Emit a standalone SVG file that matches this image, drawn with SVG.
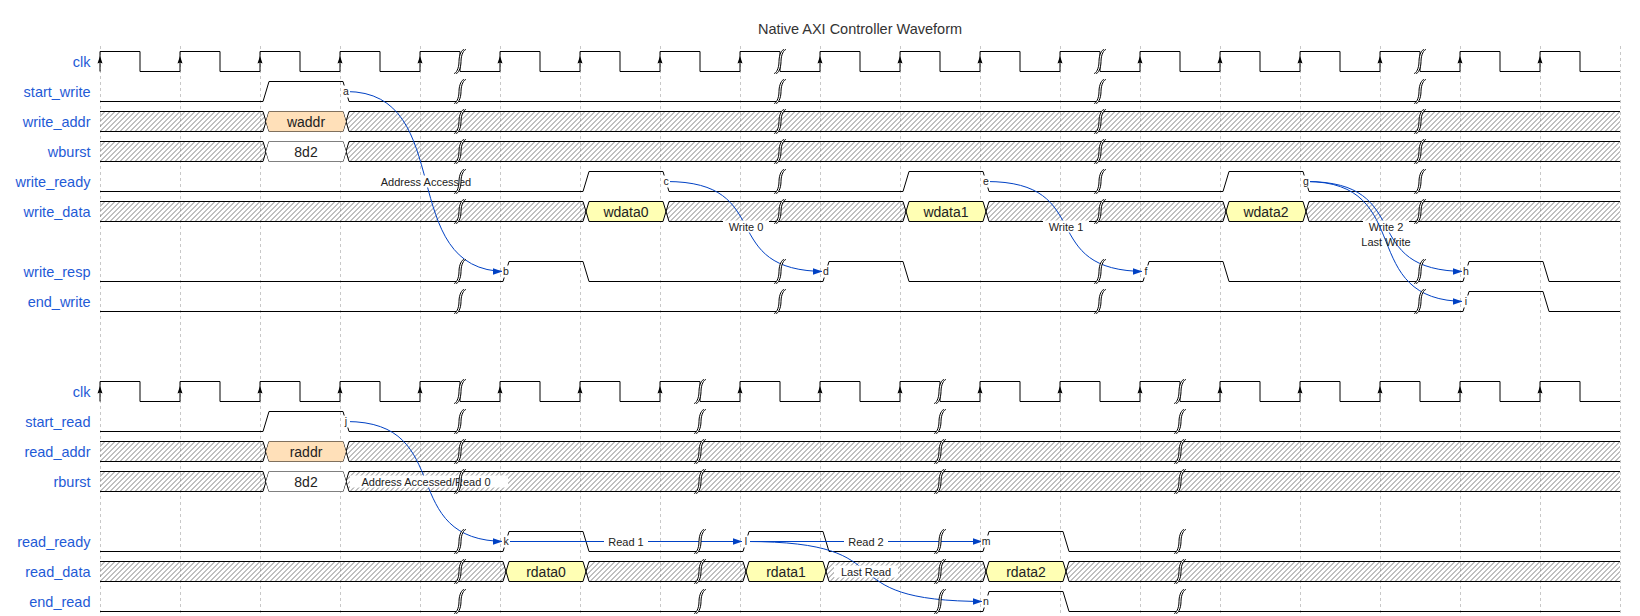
<svg xmlns="http://www.w3.org/2000/svg" width="1640" height="616" viewBox="0 0 1640 616">
<style>
.lbl{font-family:"Liberation Sans",Arial,sans-serif;font-size:14.5px;fill:#1f5bd6;text-anchor:end}
.w{fill:none;stroke:#000;stroke-width:1}
.hx{fill:url(#hatch);stroke:none}
.dt{font-family:"Liberation Sans",Arial,sans-serif;font-size:14px;fill:#222;text-anchor:middle}
.grid{stroke:#c8c8c8;stroke-width:1;stroke-dasharray:3,3}
.arc{fill:none;stroke:#0041c4;stroke-width:1;marker-end:url(#ah)}
.al{font-family:"Liberation Sans",Arial,sans-serif;font-size:11px;fill:#222;text-anchor:middle}
.nl{font-family:"Liberation Sans",Arial,sans-serif;font-size:10.5px;fill:#222;text-anchor:middle}
.bg{fill:#fff;stroke:none}
.title{font-family:"Liberation Sans",Arial,sans-serif;font-size:14.5px;fill:#333;text-anchor:middle}
</style>
<defs>
<pattern id="hatch" patternUnits="userSpaceOnUse" width="5" height="5"><path d="M-1,1 L1,-1 M0,5 L5,0 M4,6 L6,4" stroke="#555" stroke-width="0.75"/></pattern>
<marker id="ah" markerUnits="userSpaceOnUse" markerWidth="12" markerHeight="8" refX="13.5" refY="3.5" orient="auto"><path d="M0,0 L10,3.5 L0,7 z" fill="#0041c4"/></marker>
<g id="gap"><path d="M4,-2 c-2,0 -5,5 -5,12 0,7 -3,12 -5,12 h2 c2,0 5,-5 5,-12 0,-7 3,-12 5,-12 z" fill="#fff"/><path d="M4,-2 c-2,0 -5,5 -5,12 0,7 -3,12 -5,12 M6,-2 c-2,0 -5,5 -5,12 0,7 -3,12 -5,12" fill="none" stroke="#000" stroke-width="1"/></g>
<g id="clock">
<path class="w" d="M100,20 V0 H140 V20 H180 V0 H220 V20 H260 V0 H300 V20 H340 V0 H380 V20 H420 V0 H460 V20 H500 V0 H540 V20 H580 V0 H620 V20 H660 V0 H700 V20 H740 V0 H780 V20 H820 V0 H860 V20 H900 V0 H940 V20 H980 V0 H1020 V20 H1060 V0 H1100 V20 H1140 V0 H1180 V20 H1220 V0 H1260 V20 H1300 V0 H1340 V20 H1380 V0 H1420 V20 H1460 V0 H1500 V20 H1540 V0 H1580 V20 H1620"/>
<path fill="#000" d="M100,4.5 l-2.5,7.5 2.5,-1 2.5,1 z M180,4.5 l-2.5,7.5 2.5,-1 2.5,1 z M260,4.5 l-2.5,7.5 2.5,-1 2.5,1 z M340,4.5 l-2.5,7.5 2.5,-1 2.5,1 z M420,4.5 l-2.5,7.5 2.5,-1 2.5,1 z M500,4.5 l-2.5,7.5 2.5,-1 2.5,1 z M580,4.5 l-2.5,7.5 2.5,-1 2.5,1 z M660,4.5 l-2.5,7.5 2.5,-1 2.5,1 z M740,4.5 l-2.5,7.5 2.5,-1 2.5,1 z M820,4.5 l-2.5,7.5 2.5,-1 2.5,1 z M900,4.5 l-2.5,7.5 2.5,-1 2.5,1 z M980,4.5 l-2.5,7.5 2.5,-1 2.5,1 z M1060,4.5 l-2.5,7.5 2.5,-1 2.5,1 z M1140,4.5 l-2.5,7.5 2.5,-1 2.5,1 z M1220,4.5 l-2.5,7.5 2.5,-1 2.5,1 z M1300,4.5 l-2.5,7.5 2.5,-1 2.5,1 z M1380,4.5 l-2.5,7.5 2.5,-1 2.5,1 z M1460,4.5 l-2.5,7.5 2.5,-1 2.5,1 z M1540,4.5 l-2.5,7.5 2.5,-1 2.5,1 z"/>
</g>
<g id="pulse1">
<path class="w" d="M100,20 H263 L269,0 H343 L349,20 H1620"/>
</g>
<g id="bus1">
<polygon class="hx" points="100,0 263,0 266,10 263,20 100,20"/>
<polygon class="hx" points="346,10 349,0 1620,0 1620,20 349,20"/>
<path class="w" d="M100,0 H263 L269,20 H343 L349,0 H1620 M100,20 H263 L269,0 H343 L349,20 H1620"/>
</g>
</defs>

<rect width="1640" height="616" fill="#fff"/>
<text class="title" x="860" y="34">Native AXI Controller Waveform</text>

<g id="grid">
<path class="grid" d="M100.5,46 V616 M180.5,46 V616 M260.5,46 V616 M340.5,46 V616 M420.5,46 V616 M500.5,46 V616 M580.5,46 V616 M660.5,46 V616 M740.5,46 V616 M820.5,46 V616 M900.5,46 V616 M980.5,46 V616 M1060.5,46 V616 M1140.5,46 V616 M1220.5,46 V616 M1300.5,46 V616 M1380.5,46 V616 M1460.5,46 V616 M1540.5,46 V616 M1620.5,46 V616"/>
</g>

<g id="clk_w" transform="translate(0,51.5)">
<text class="lbl" x="90.5" y="15">clk</text>
<use href="#clock"/>
</g>
<g id="start_write" transform="translate(0,81.5)">
<text class="lbl" x="90.5" y="15">start_write</text>
<use href="#pulse1"/>
</g>
<g id="write_addr" transform="translate(0,111.5)">
<text class="lbl" x="90.5" y="15">write_addr</text>
<use href="#bus1"/>
<polygon points="266,10 269,0 343,0 346,10 343,20 269,20" fill="#ffe0b9" stroke="none"/>
<text class="dt" x="306" y="15">waddr</text>
</g>
<g id="wburst" transform="translate(0,141.5)">
<text class="lbl" x="90.5" y="15">wburst</text>
<use href="#bus1"/>
<polygon points="266,10 269,0 343,0 346,10 343,20 269,20" fill="#fff" stroke="none"/>
<text class="dt" x="306" y="15">8d2</text>
</g>
<g id="write_ready" transform="translate(0,171.5)">
<text class="lbl" x="90.5" y="15">write_ready</text>
<path class="w" d="M100,20 H583 L589,0 H663 L669,20 H903 L909,0 H983 L989,20 H1223 L1229,0 H1303 L1309,20 H1620"/>
</g>
<g id="write_data" transform="translate(0,201.5)">
<text class="lbl" x="90.5" y="15">write_data</text>
<polygon class="hx" points="100,0 583,0 586,10 583,20 100,20"/>
<polygon class="hx" points="666,10 669,0 903,0 906,10 903,20 669,20"/>
<polygon class="hx" points="986,10 989,0 1223,0 1226,10 1223,20 989,20"/>
<polygon class="hx" points="1306,10 1309,0 1620,0 1620,20 1309,20"/>
<polygon points="586,10 589,0 663,0 666,10 663,20 589,20" fill="#ffffb4"/>
<polygon points="906,10 909,0 983,0 986,10 983,20 909,20" fill="#ffffb4"/>
<polygon points="1226,10 1229,0 1303,0 1306,10 1303,20 1229,20" fill="#ffffb4"/>
<path class="w" d="M100,0 H583 L589,20 H663 L669,0 H903 L909,20 H983 L989,0 H1223 L1229,20 H1303 L1309,0 H1620 M100,20 H583 L589,0 H663 L669,20 H903 L909,0 H983 L989,20 H1223 L1229,0 H1303 L1309,20 H1620"/>
<text class="dt" x="626" y="15">wdata0</text>
<text class="dt" x="946" y="15">wdata1</text>
<text class="dt" x="1266" y="15">wdata2</text>
</g>
<g id="write_resp" transform="translate(0,261.5)">
<text class="lbl" x="90.5" y="15">write_resp</text>
<path class="w" d="M100,20 H503 L509,0 H583 L589,20 H823 L829,0 H903 L909,20 H1143 L1149,0 H1223 L1229,20 H1463 L1469,0 H1543 L1549,20 H1620"/>
</g>
<g id="end_write" transform="translate(0,291.5)">
<text class="lbl" x="90.5" y="15">end_write</text>
<path class="w" d="M100,20 H1463 L1469,0 H1543 L1549,20 H1620"/>
</g>

<g id="clk_r" transform="translate(0,381.5)">
<text class="lbl" x="90.5" y="15">clk</text>
<use href="#clock"/>
</g>
<g id="start_read" transform="translate(0,411.5)">
<text class="lbl" x="90.5" y="15">start_read</text>
<use href="#pulse1"/>
</g>
<g id="read_addr" transform="translate(0,441.5)">
<text class="lbl" x="90.5" y="15">read_addr</text>
<use href="#bus1"/>
<polygon points="266,10 269,0 343,0 346,10 343,20 269,20" fill="#ffe0b9" stroke="none"/>
<text class="dt" x="306" y="15">raddr</text>
</g>
<g id="rburst" transform="translate(0,471.5)">
<text class="lbl" x="90.5" y="15">rburst</text>
<use href="#bus1"/>
<polygon points="266,10 269,0 343,0 346,10 343,20 269,20" fill="#fff" stroke="none"/>
<text class="dt" x="306" y="15">8d2</text>
</g>
<g id="read_ready" transform="translate(0,531.5)">
<text class="lbl" x="90.5" y="15">read_ready</text>
<path class="w" d="M100,20 H503 L509,0 H583 L589,20 H743 L749,0 H823 L829,20 H983 L989,0 H1063 L1069,20 H1620"/>
</g>
<g id="read_data" transform="translate(0,561.5)">
<text class="lbl" x="90.5" y="15">read_data</text>
<polygon class="hx" points="100,0 503,0 506,10 503,20 100,20"/>
<polygon class="hx" points="586,10 589,0 743,0 746,10 743,20 589,20"/>
<polygon class="hx" points="826,10 829,0 983,0 986,10 983,20 829,20"/>
<polygon class="hx" points="1066,10 1069,0 1620,0 1620,20 1069,20"/>
<polygon points="506,10 509,0 583,0 586,10 583,20 509,20" fill="#ffffb4"/>
<polygon points="746,10 749,0 823,0 826,10 823,20 749,20" fill="#ffffb4"/>
<polygon points="986,10 989,0 1063,0 1066,10 1063,20 989,20" fill="#ffffb4"/>
<path class="w" d="M100,0 H503 L509,20 H583 L589,0 H743 L749,20 H823 L829,0 H983 L989,20 H1063 L1069,0 H1620 M100,20 H503 L509,0 H583 L589,20 H743 L749,0 H823 L829,20 H983 L989,0 H1063 L1069,20 H1620"/>
<text class="dt" x="546" y="15">rdata0</text>
<text class="dt" x="786" y="15">rdata1</text>
<text class="dt" x="1026" y="15">rdata2</text>
</g>
<g id="end_read" transform="translate(0,591.5)">
<text class="lbl" x="90.5" y="15">end_read</text>
<path class="w" d="M100,20 H983 L989,0 H1063 L1069,20 H1620"/>
</g>

<g id="connectors">
<path class="arc" d="M346,91.5 c112,0 48,180 160,180"/>
<rect class="bg" x="375" y="175.5" width="102" height="12"/>
<text class="al" x="426" y="185.5">Address Accessed</text>
<path class="arc" d="M666,181.5 c112,0 48,90 160,90"/>
<rect class="bg" x="723" y="220.5" width="46" height="12"/>
<text class="al" x="746" y="230.5">Write 0</text>
<path class="arc" d="M986,181.5 c112,0 48,90 160,90"/>
<rect class="bg" x="1043" y="220.5" width="46" height="12"/>
<text class="al" x="1066" y="230.5">Write 1</text>
<path class="arc" d="M1306,181.5 c112,0 48,90 160,90"/>
<rect class="bg" x="1363" y="220.5" width="46" height="12"/>
<text class="al" x="1386" y="230.5">Write 2</text>
<path class="arc" d="M1306,181.5 c112,0 48,120 160,120"/>
<text class="al" x="1386" y="245.5">Last Write</text>
<path class="arc" d="M346,421.5 c112,0 48,120 160,120"/>
<rect class="bg" x="350" y="475.5" width="158" height="12"/>
<text class="al" x="426" y="485.5">Address Accessed/Read 0</text>
<path class="arc" d="M506,541.5 L746,541.5"/>
<rect class="bg" x="604" y="535.5" width="44" height="12"/>
<text class="al" x="626" y="545.5">Read 1</text>
<path class="arc" d="M746,541.5 L986,541.5"/>
<rect class="bg" x="844" y="535.5" width="44" height="12"/>
<text class="al" x="866" y="545.5">Read 2</text>
<path class="arc" d="M746,541.5 c168,0 72,60 240,60"/>
<rect class="bg" x="834" y="565.5" width="64" height="12"/>
<text class="al" x="866" y="575.5">Last Read</text>
</g>

<g id="nodes">
<rect class="bg" x="342" y="85.5" width="8" height="12"/><text class="nl" x="346" y="95">a</text>
<rect class="bg" x="502" y="265.5" width="8" height="12"/><text class="nl" x="506" y="275">b</text>
<rect class="bg" x="662" y="175.5" width="8" height="12"/><text class="nl" x="666" y="185">c</text>
<rect class="bg" x="822" y="265.5" width="8" height="12"/><text class="nl" x="826" y="275">d</text>
<rect class="bg" x="982" y="175.5" width="8" height="12"/><text class="nl" x="986" y="185">e</text>
<rect class="bg" x="1142" y="265.5" width="8" height="12"/><text class="nl" x="1146" y="275">f</text>
<rect class="bg" x="1302" y="175.5" width="8" height="12"/><text class="nl" x="1306" y="185">g</text>
<rect class="bg" x="1462" y="265.5" width="8" height="12"/><text class="nl" x="1466" y="275">h</text>
<rect class="bg" x="1462" y="295.5" width="8" height="12"/><text class="nl" x="1466" y="305">i</text>
<rect class="bg" x="342" y="415.5" width="8" height="12"/><text class="nl" x="346" y="425">j</text>
<rect class="bg" x="502" y="535.5" width="8" height="12"/><text class="nl" x="506" y="545">k</text>
<rect class="bg" x="742" y="535.5" width="8" height="12"/><text class="nl" x="746" y="545">l</text>
<rect class="bg" x="981" y="535.5" width="10" height="12"/><text class="nl" x="986" y="545">m</text>
<rect class="bg" x="982" y="595.5" width="8" height="12"/><text class="nl" x="986" y="605">n</text>
</g>

<g id="gaps">
<use href="#gap" x="460" y="51.5"/><use href="#gap" x="780" y="51.5"/><use href="#gap" x="1100" y="51.5"/><use href="#gap" x="1420" y="51.5"/>
<use href="#gap" x="460" y="81.5"/><use href="#gap" x="780" y="81.5"/><use href="#gap" x="1100" y="81.5"/><use href="#gap" x="1420" y="81.5"/>
<use href="#gap" x="460" y="111.5"/><use href="#gap" x="780" y="111.5"/><use href="#gap" x="1100" y="111.5"/><use href="#gap" x="1420" y="111.5"/>
<use href="#gap" x="460" y="141.5"/><use href="#gap" x="780" y="141.5"/><use href="#gap" x="1100" y="141.5"/><use href="#gap" x="1420" y="141.5"/>
<use href="#gap" x="460" y="171.5"/><use href="#gap" x="780" y="171.5"/><use href="#gap" x="1100" y="171.5"/><use href="#gap" x="1420" y="171.5"/>
<use href="#gap" x="460" y="201.5"/><use href="#gap" x="780" y="201.5"/><use href="#gap" x="1100" y="201.5"/><use href="#gap" x="1420" y="201.5"/>
<use href="#gap" x="460" y="261.5"/><use href="#gap" x="780" y="261.5"/><use href="#gap" x="1100" y="261.5"/><use href="#gap" x="1420" y="261.5"/>
<use href="#gap" x="460" y="291.5"/><use href="#gap" x="780" y="291.5"/><use href="#gap" x="1100" y="291.5"/><use href="#gap" x="1420" y="291.5"/>
<use href="#gap" x="460" y="381.5"/><use href="#gap" x="700" y="381.5"/><use href="#gap" x="940" y="381.5"/><use href="#gap" x="1180" y="381.5"/>
<use href="#gap" x="460" y="411.5"/><use href="#gap" x="700" y="411.5"/><use href="#gap" x="940" y="411.5"/><use href="#gap" x="1180" y="411.5"/>
<use href="#gap" x="460" y="441.5"/><use href="#gap" x="700" y="441.5"/><use href="#gap" x="940" y="441.5"/><use href="#gap" x="1180" y="441.5"/>
<use href="#gap" x="460" y="471.5"/><use href="#gap" x="700" y="471.5"/><use href="#gap" x="940" y="471.5"/><use href="#gap" x="1180" y="471.5"/>
<use href="#gap" x="460" y="531.5"/><use href="#gap" x="700" y="531.5"/><use href="#gap" x="940" y="531.5"/><use href="#gap" x="1180" y="531.5"/>
<use href="#gap" x="460" y="561.5"/><use href="#gap" x="700" y="561.5"/><use href="#gap" x="940" y="561.5"/><use href="#gap" x="1180" y="561.5"/>
<use href="#gap" x="460" y="591.5"/><use href="#gap" x="700" y="591.5"/><use href="#gap" x="940" y="591.5"/><use href="#gap" x="1180" y="591.5"/>
</g>
</svg>
